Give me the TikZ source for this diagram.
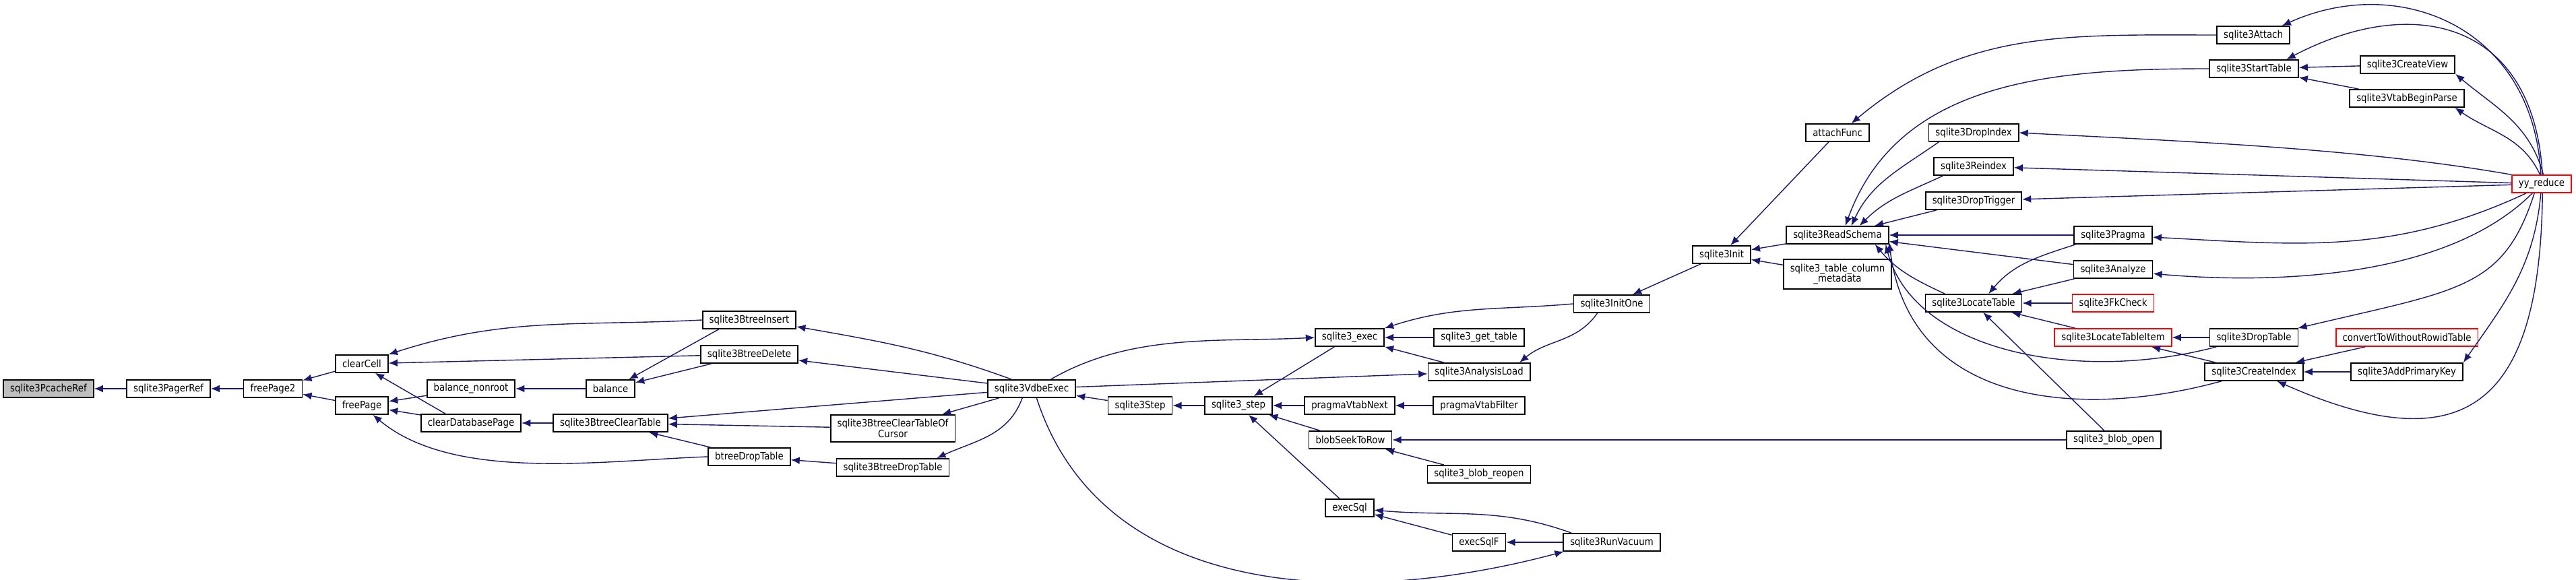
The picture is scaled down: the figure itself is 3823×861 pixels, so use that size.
\documentclass[tikz,border=0pt]{standalone}
\usepackage{fontspec}
\setmainfont{DejaVu Sans}[FakeStretch=0.88]
\usetikzlibrary{arrows.meta}
\definecolor{edgeblue}{HTML}{191970}
\definecolor{nodegray}{HTML}{BFBFBF}
\definecolor{nodered}{HTML}{FF0000}

\begin{document}
\begin{tikzpicture}[x=0.02cm, y=-0.02cm, >={Latex[length=7.5pt,width=6.2pt]},
  fn/.style={draw=black, line width=1pt, fill=white, font=\fontsize{8.6}{8.8}\selectfont, inner xsep=0.2cm, inner ysep=0pt, minimum height=0.52cm},
  twoline/.style={align=center, inner ysep=0.13cm},
  undoc/.style={draw=nodered},
  focus/.style={fill=nodegray},
  call/.style={->, draw=edgeblue, line width=0.8pt}]
\path[use as bounding box, fill=white] (0,0) rectangle (3823,861);

\node[fn, focus] (pcacheRef) at (72,577) {sqlite3PcacheRef};
\node[fn] (pagerRef) at (250,577) {sqlite3PagerRef};
\node[fn] (freePageTwo) at (405,577) {freePage2};
\node[fn] (clearCell) at (537,540) {clearCell};
\node[fn] (freePage) at (537,602) {freePage};
\node[fn] (balanceNonroot) at (699,577) {balance\_nonroot};
\node[fn] (clearDbPage) at (699,628) {clearDatabasePage};
\node[fn] (balance) at (906,577) {balance};
\node[fn] (btreeClearTable) at (906,628) {sqlite3BtreeClearTable};
\node[fn] (btreeInsert) at (1112,475) {sqlite3BtreeInsert};
\node[fn] (btreeDelete) at (1112,526) {sqlite3BtreeDelete};
\node[fn] (btreeDropTableS) at (1112,678) {btreeDropTable};
\node[fn, twoline] (clearTableOfCursor) at (1325,636) {sqlite3BtreeClearTableOf\\Cursor};
\node[fn] (sqlBtreeDropTable) at (1325,694) {sqlite3BtreeDropTable};
\node[fn] (vdbeExec) at (1531,577) {sqlite3VdbeExec};
\node[fn] (sqlStep) at (1692,602) {sqlite3Step};
\node[fn] (apiStep) at (1838,602) {sqlite3\_step};
\node[fn] (apiExec) at (2003,501) {sqlite3\_exec};
\node[fn] (vtabNext) at (2003,602) {pragmaVtabNext};
\node[fn] (blobSeek) at (2004,653) {blobSeekToRow};
\node[fn] (execSql) at (2003,754) {execSql};
\node[fn] (getTable) at (2195,501) {sqlite3\_get\_table};
\node[fn] (analysisLoad) at (2195,552) {sqlite3AnalysisLoad};
\node[fn] (vtabFilter) at (2195,602) {pragmaVtabFilter};
\node[fn] (blobReopen) at (2195,704) {sqlite3\_blob\_reopen};
\node[fn] (execSqlF) at (2195,805) {execSqlF};
\node[fn] (initOne) at (2392,451) {sqlite3InitOne};
\node[fn] (runVacuum) at (2392,805) {sqlite3RunVacuum};
\node[fn] (init) at (2555,378) {sqlite3Init};
\node[fn] (attachFunc) at (2727,197) {attachFunc};
\node[fn] (readSchema) at (2727,349) {sqlite3ReadSchema};
\node[fn, twoline] (colMetadata) at (2727,407) {sqlite3\_table\_column\\\_metadata};
\node[fn] (dropIndex) at (2929,197) {sqlite3DropIndex};
\node[fn] (reindex) at (2929,247) {sqlite3Reindex};
\node[fn] (dropTrigger) at (2929,298) {sqlite3DropTrigger};
\node[fn] (locateTable) at (2929,450) {sqlite3LocateTable};
\node[fn] (pragma) at (3136,349) {sqlite3Pragma};
\node[fn] (analyze) at (3136,400) {sqlite3Analyze};
\node[fn, undoc] (fkCheck) at (3136,450) {sqlite3FkCheck};
\node[fn, undoc] (locateTableItem) at (3136,501) {sqlite3LocateTableItem};
\node[fn] (blobOpen) at (3137,653) {sqlite3\_blob\_open};
\node[fn] (attach) at (3344,52) {sqlite3Attach};
\node[fn] (startTable) at (3345,102) {sqlite3StartTable};
\node[fn] (dropTable) at (3345,501) {sqlite3DropTable};
\node[fn] (createIndex) at (3345,552) {sqlite3CreateIndex};
\node[fn] (createView) at (3573,96) {sqlite3CreateView};
\node[fn] (vtabBeginParse) at (3572,146) {sqlite3VtabBeginParse};
\node[fn, undoc] (convertRowid) at (3572,501) {convertToWithoutRowidTable};
\node[fn] (addPrimaryKey) at (3572,552) {sqlite3AddPrimaryKey};
\node[fn, undoc] (yyReduce) at (3772,273) {yy\_reduce};

\draw[call] (pagerRef) -- (pcacheRef);
\draw[call] (freePageTwo) -- (pagerRef);
\draw[call] (clearCell) -- (freePageTwo);
\draw[call] (freePage) -- (freePageTwo);
\draw[call] (btreeInsert.west) to[out=183,in=18] (clearCell.north east);
\draw[call] (btreeDelete) -- (clearCell);
\draw[call] (clearDbPage.160) -- (clearCell.-35);
\draw[call] (balanceNonroot) -- (freePage);
\draw[call] (clearDbPage) -- (freePage);
\draw[call] (btreeDropTableS.west) to[out=182,in=-40,looseness=0.8] (freePage.-40);
\draw[call] (balance) -- (balanceNonroot);
\draw[call] (btreeInsert.197) -- (balance.27);
\draw[call] (btreeDelete) -- (balance);
\draw[call] (btreeClearTable) -- (clearDbPage);
\draw[call] (vdbeExec.155) to[out=160,in=-10] (btreeInsert.-8);
\draw[call] (vdbeExec) -- (btreeDelete);
\draw[call] (vdbeExec) -- (btreeClearTable);
\draw[call] (clearTableOfCursor) -- (btreeClearTable);
\draw[call] (btreeDropTableS) -- (btreeClearTable);
\draw[call] (sqlBtreeDropTable) -- (btreeDropTableS);
\draw[call] (vdbeExec) -- (clearTableOfCursor);
\draw[call] (vdbeExec.-135) to[out=250,in=25] (sqlBtreeDropTable.12);
\draw[call] (sqlStep) -- (vdbeExec);
\draw[call] (vdbeExec.26) to[out=30,in=183,looseness=0.9] (apiExec.west);
\draw[call] (vdbeExec) -- (analysisLoad);
\draw[call] (vdbeExec.-62) to[out=-72,in=195] (runVacuum.-169);
\draw[call] (apiStep) -- (sqlStep);
\draw[call] (apiExec) -- (apiStep);
\draw[call] (vtabNext) -- (apiStep);
\draw[call] (blobSeek) -- (apiStep);
\draw[call] (execSql) -- (apiStep);
\draw[call] (getTable) -- (apiExec);
\draw[call] (initOne.west) to[out=185,in=18] (apiExec.north east);
\draw[call] (analysisLoad) -- (apiExec);
\draw[call] (vtabFilter) -- (vtabNext);
\draw[call] (blobOpen) -- (blobSeek);
\draw[call] (blobReopen) -- (blobSeek);
\draw[call] (runVacuum.167) to[out=160,in=-5] (execSql.-5);
\draw[call] (execSqlF) -- (execSql);
\draw[call] (runVacuum) -- (execSqlF);
\draw[call] (initOne.-147) to[out=-125,in=40] (analysisLoad.13);
\draw[call] (init) -- (initOne);
\draw[call] (readSchema) -- (init);
\draw[call] (colMetadata) -- (init);
\draw[call] (attachFunc) -- (init);
\draw[call] (attach.west) to[out=180,in=40] (attachFunc.34);
\draw[call] (startTable.west) to[out=180,in=70] (readSchema.50);
\draw[call] (dropIndex.195) to[out=215,in=65] (readSchema.34);
\draw[call] (reindex.197) to[out=205,in=45] (readSchema.23);
\draw[call] (dropTrigger) -- (readSchema);
\draw[call] (pragma) -- (readSchema);
\draw[call] (analyze) -- (readSchema);
\draw[call] (locateTable.162) to[out=155,in=-50] (readSchema.-14);
\draw[call] (dropTable.194) .. controls (3080,570) and (2840,520) .. (readSchema.-11);
\draw[call] (createIndex.196) .. controls (3100,620) and (2835,610) .. (readSchema.-8);
\draw[call] (pragma.194) to[out=198,in=50] (locateTable.32);
\draw[call] (analyze) -- (locateTable);
\draw[call] (fkCheck) -- (locateTable);
\draw[call] (locateTableItem) -- (locateTable);
\draw[call] (blobOpen) -- (locateTable);
\draw[call] (dropTable) -- (locateTableItem);
\draw[call] (createIndex) -- (locateTableItem);
\draw[call] (createView) -- (startTable);
\draw[call] (vtabBeginParse) -- (startTable);
\draw[call] (yyReduce.95) .. controls (3760,40) and (3560,-40) .. (attach.18);
\draw[call] (yyReduce.85) .. controls (3760,30) and (3580,-10) .. (startTable.16);
\draw[call] (yyReduce.80) to[out=105,in=-40] (createView.south east);
\draw[call] (yyReduce.100) to[out=115,in=-35] (vtabBeginParse.-11);
\draw[call] (yyReduce.163) to[out=170,in=-3,looseness=0.8] (dropIndex.east);
\draw[call] (yyReduce) -- (reindex);
\draw[call] (yyReduce) -- (dropTrigger);
\draw[call] (yyReduce.-149) to[out=205,in=-3] (pragma.-3);
\draw[call] (yyReduce.-135) to[out=225,in=-5,looseness=0.8] (analyze.-6);
\draw[call] (yyReduce.-128) .. controls (3715,430) and (3650,430) .. (dropTable.12);
\draw[call] (yyReduce.-95) to[out=265,in=55] (addPrimaryKey.north east);
\draw[call] (yyReduce.-85) .. controls (3770,600) and (3660,690) .. (createIndex.-22);
\draw[call] (convertRowid) -- (createIndex);
\draw[call] (addPrimaryKey) -- (createIndex);
\end{tikzpicture}
\end{document}
